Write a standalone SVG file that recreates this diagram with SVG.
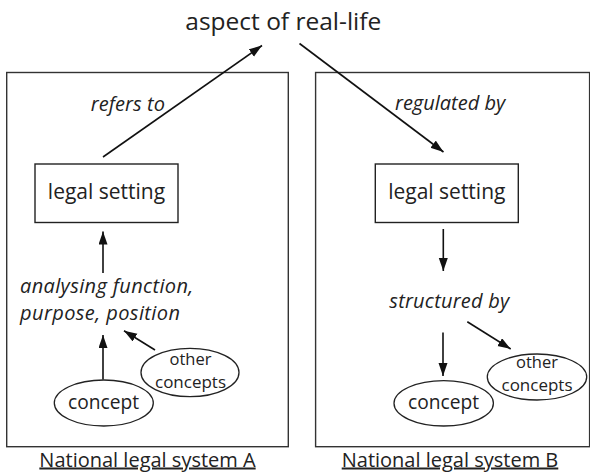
<svg xmlns="http://www.w3.org/2000/svg" width="590" height="474" viewBox="0 0 590 474">
<style>
.t{font-family:"Open Sans","Noto Sans","DejaVu Sans",sans-serif;fill:#222}
.it{font-style:italic;font-size:20px}
.box{fill:none;stroke:#333;stroke-width:1.4}
.node{fill:#fff;stroke:#222;stroke-width:1.4}
.ell{fill:#fff;stroke:#222;stroke-width:1.3}
.c{stroke:#111;stroke-width:1.6;fill:none;marker-end:url(#ah)}
</style>
<defs>
<marker id="ah" markerUnits="userSpaceOnUse" markerWidth="14" markerHeight="10" refX="13" refY="4.5" orient="auto">
<path d="M0,0 L13,4.5 L0,9 z" fill="#111"/>
</marker>
</defs>
<rect fill="#fff" x="0" y="0" width="590" height="474"/>

<g id="systemA">
<rect class="box" x="6.7" y="72.5" width="281.6" height="374.2"/>
<text class="t" x="147.5" y="466.5" font-size="20" text-anchor="middle" text-decoration="underline">National legal system A</text>
</g>
<g id="systemB">
<rect class="box" x="315.6" y="72.5" width="274" height="374.2"/>
<text class="t" x="450" y="466.5" font-size="20" text-anchor="middle" text-decoration="underline">National legal system B</text>
</g>

<g id="aspect">
<text class="t" x="283.3" y="30" font-size="24.5" text-anchor="middle">aspect of real-life</text>
</g>

<g id="legalA">
<rect class="node" x="35" y="164" width="143" height="58.5"/>
<text class="t" x="106.5" y="199" font-size="21" text-anchor="middle">legal setting</text>
</g>
<g id="legalB">
<rect class="node" x="375.3" y="164" width="143" height="58.5"/>
<text class="t" x="446.8" y="199" font-size="21" text-anchor="middle">legal setting</text>
</g>

<g id="conceptA">
<ellipse class="ell" cx="103.8" cy="403" rx="49.5" ry="23"/>
<text class="t" x="103.5" y="408.5" font-size="20" text-anchor="middle" textLength="71" lengthAdjust="spacingAndGlyphs">concept</text>
</g>
<g id="otherA">
<ellipse class="ell" cx="190" cy="372.5" rx="49" ry="24.2"/>
<text class="t" x="190.5" y="365.2" font-size="16.5" text-anchor="middle">other</text>
<text class="t" x="190.5" y="387.8" font-size="16.5" text-anchor="middle" textLength="71" lengthAdjust="spacingAndGlyphs">concepts</text>
</g>
<g id="conceptB">
<ellipse class="ell" cx="443.7" cy="403.3" rx="49.7" ry="22.7"/>
<text class="t" x="443.5" y="408.8" font-size="20" text-anchor="middle" textLength="71" lengthAdjust="spacingAndGlyphs">concept</text>
</g>
<g id="otherB">
<ellipse class="ell" cx="537" cy="377" rx="49.7" ry="23"/>
<text class="t" x="537" y="368.2" font-size="16.5" text-anchor="middle">other</text>
<text class="t" x="537" y="390.8" font-size="16.5" text-anchor="middle" textLength="71" lengthAdjust="spacingAndGlyphs">concepts</text>
</g>

<g id="labels">
<text class="t it" x="90.7" y="111" textLength="74.3">refers to</text>
<text class="t it" x="395" y="109.5">regulated by</text>
<text class="t it" x="20" y="293.3" textLength="173.3">analysing function,</text>
<text class="t it" x="20" y="320" textLength="160">purpose, position</text>
<text class="t it" x="389.3" y="308" textLength="120">structured by</text>
</g>

<g id="connectors">
<line class="c" x1="103" y1="157" x2="262" y2="45.5"/>
<line class="c" x1="299.5" y1="43.5" x2="443.5" y2="152"/>
<line class="c" x1="103" y1="273" x2="103" y2="231.5"/>
<line class="c" x1="103" y1="379.5" x2="103" y2="335"/>
<line class="c" x1="155" y1="350" x2="124" y2="330.7"/>
<line class="c" x1="443.3" y1="229" x2="443.3" y2="271"/>
<line class="c" x1="443" y1="332.5" x2="443" y2="376"/>
<line class="c" x1="467.3" y1="321.7" x2="510.7" y2="349"/>
</g>
</svg>
